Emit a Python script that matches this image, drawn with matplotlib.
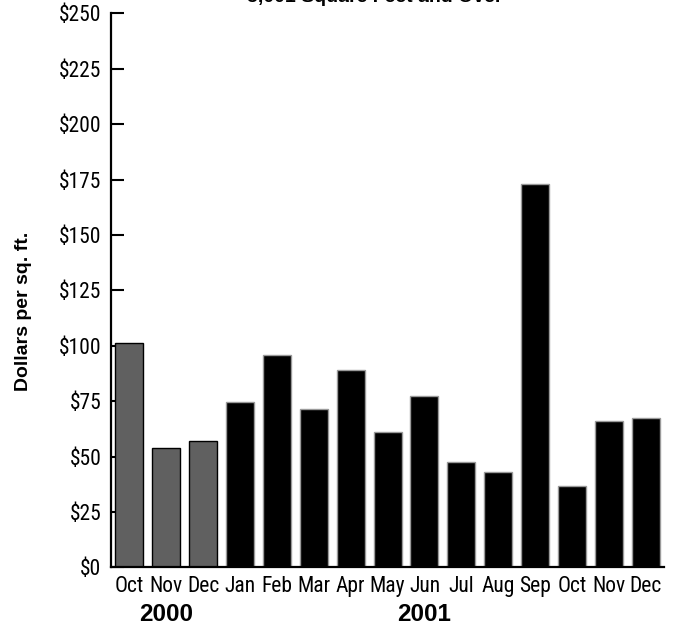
import matplotlib
matplotlib.use("Agg")
import matplotlib.pyplot as plt
import matplotlib.transforms as mtransforms
from matplotlib import font_manager

months = ["Oct", "Nov", "Dec", "Jan", "Feb", "Mar", "Apr", "May", "Jun",
          "Jul", "Aug", "Sep", "Oct", "Nov", "Dec"]
values = [101.2, 53.7, 57.0, 74.7, 95.9, 71.3, 89.0, 60.9, 77.4,
          47.4, 42.9, 173.1, 36.8, 66.0, 67.4]
years = ["2000", "2001"]
year_positions = [1, 8]
n_2000 = 3
yticks = [0, 25, 50, 75, 100, 125, 150, 175, 200, 225, 250]
ytick_labels = ["$%d" % v for v in yticks]
title = "5,001 Square Feet and Over"
ylabel = "Dollars per sq. ft."

names = {f.name for f in font_manager.fontManager.ttflist}
narrow = None
for cand in ["Liberation Sans Narrow", "Arial Narrow", "Roboto Condensed", "Open Sans Condensed"]:
    if cand in names:
        narrow = cand
        break
if narrow:
    plt.rcParams['font.family'] = [narrow, 'Liberation Sans', 'DejaVu Sans']
    tick_size = 15.5
else:
    plt.rcParams['font.family'] = ['Liberation Sans', 'DejaVu Sans']
    tick_size = 14.5

fig = plt.figure(figsize=(6.77, 6.25), dpi=100)
ax = fig.add_axes([0.164, 0.0923, 0.817, 0.8864])

x = list(range(len(values)))
colors = ['#606060'] * n_2000 + ['#000000'] * (len(values) - n_2000)
edges = ['#000000'] * n_2000 + ['#9a9a9a'] * (len(values) - n_2000)
ax.bar(x, values, width=0.76, color=colors, edgecolor=edges, linewidth=1.0, zorder=3)

ax.set_xlim(-0.5, len(values) - 0.5)
ax.set_ylim(0, 250)
ax.set_yticks(yticks)
ax.set_yticklabels(ytick_labels)
ax.set_xticks(x)
ax.set_xticklabels(months)
ax.set_axisbelow(True)

for s in ['top', 'right']:
    ax.spines[s].set_visible(False)
for s in ['left', 'bottom']:
    ax.spines[s].set_linewidth(1.6)
    ax.spines[s].set_zorder(4)

ax.tick_params(axis='y', direction='in', length=9.5, width=1.5, pad=7,
               labelsize=tick_size, colors='black')
ax.tick_params(axis='x', length=0, pad=6, labelsize=tick_size)

trans = mtransforms.blended_transform_factory(ax.transData, ax.transAxes)
for yr, pos in zip(years, year_positions):
    ax.text(pos, -0.086, yr, transform=trans, ha='center', va='center',
            fontsize=17.5, fontweight='bold', family=['Liberation Sans', 'DejaVu Sans'])

fig.text(23 / 677, 1 - 311 / 625, ylabel, rotation=90, ha='center', va='center',
         fontsize=14, fontweight='bold', family=['Liberation Sans', 'DejaVu Sans'])

fig.text(375 / 677, 1 - (-3) / 625, title, ha='center', va='center',
         fontsize=14, fontweight='bold', family=['Liberation Sans', 'DejaVu Sans'])

fig.savefig("out.png", dpi=100)
